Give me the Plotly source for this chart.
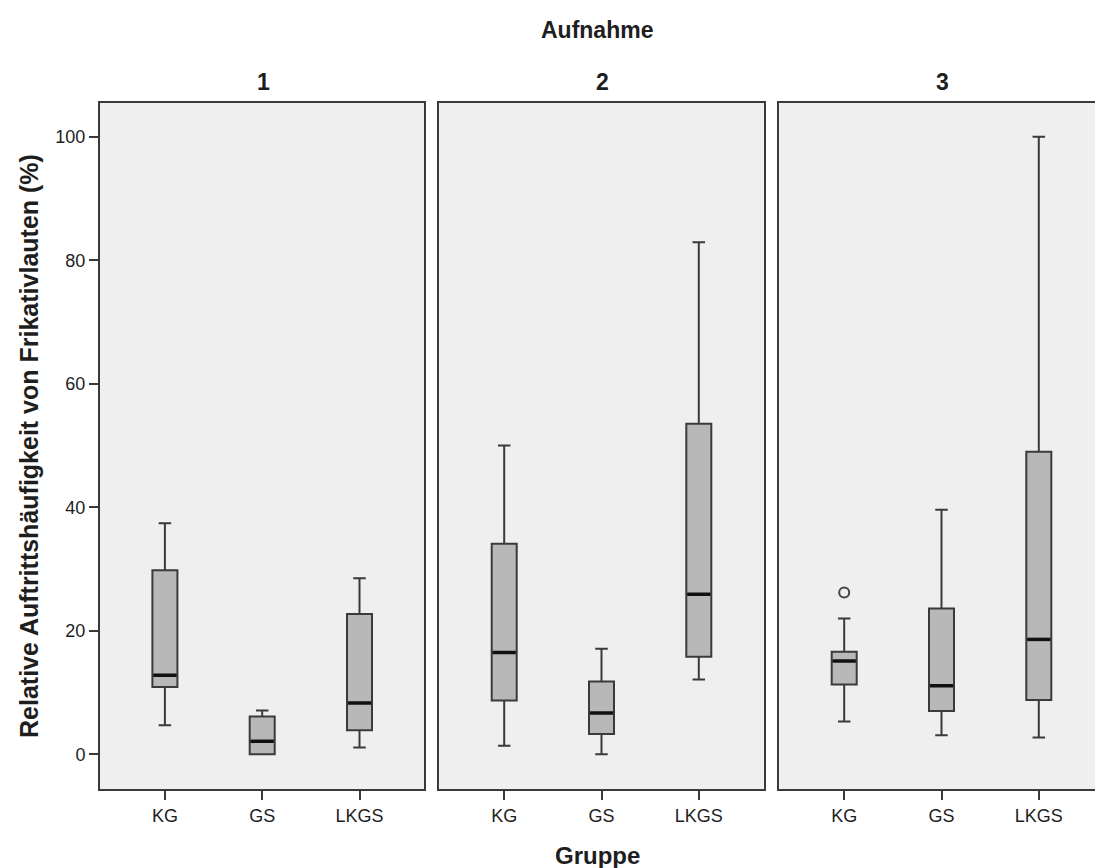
import plotly.graph_objects as go

# Groups and recording sessions
groups = ["KG", "GS", "LKGS"]
sessions = ["1", "2", "3"]

# Box statistics per session (order: KG, GS, LKGS)
lower_whisker = {"1": [4.7, 0.0, 1.1], "2": [1.4, 0.0, 12.1], "3": [5.3, 3.1, 2.7]}
q1_vals = {"1": [10.9, 0.0, 3.9], "2": [8.7, 3.3, 15.8], "3": [11.3, 7.0, 8.8]}
median_vals = {"1": [12.8, 2.1, 8.3], "2": [16.5, 6.7, 25.9], "3": [15.1, 11.1, 18.6]}
q3_vals = {"1": [29.8, 6.1, 22.7], "2": [34.1, 11.8, 53.5], "3": [16.6, 23.6, 49.0]}
upper_whisker = {"1": [37.4, 7.1, 28.5], "2": [50.0, 17.1, 82.9], "3": [22.0, 39.6, 100.0]}

# Outliers: (session, group index, value)
outliers = [("3", 0, 26.2)]

y_ticks = [0, 20, 40, 60, 80, 100]

FONT = "Liberation Sans, Arial, sans-serif"
W, H = 1095, 868
BOX_W = 0.257
LINE = "#3a3a3a"
PANEL_BG = "#efefef"
TXT = "#1e1e1e"

# Panel geometry in pixels
panel_left = [100.0, 439.3, 779.3]
panel_w = 324.4
top_px, bot_px = 102.7, 789.0
px_per_cat = panel_w / (2.667 + 0.667)

fig = go.Figure()

for k, s in enumerate(sessions):
    xa = "x" if k == 0 else f"x{k + 1}"
    ya = "y" if k == 0 else f"y{k + 1}"
    pos = list(range(len(groups)))
    fig.add_trace(go.Box(
        x=pos, q1=q1_vals[s], median=median_vals[s], q3=q3_vals[s],
        lowerfence=lower_whisker[s], upperfence=upper_whisker[s],
        width=BOX_W, whiskerwidth=0.5, boxpoints=False,
        fillcolor="#b8b8b8", line=dict(color=LINE, width=2),
        xaxis=xa, yaxis=ya, showlegend=False, hoverinfo="skip",
    ))
    # heavier median bars
    mx, my = [], []
    for i, m in enumerate(median_vals[s]):
        mx += [i - BOX_W / 2 + 0.01, i + BOX_W / 2 - 0.01, None]
        my += [m, m, None]
    fig.add_trace(go.Scatter(
        x=mx, y=my, mode="lines", line=dict(color="#111111", width=3.5),
        xaxis=xa, yaxis=ya, showlegend=False, hoverinfo="skip",
    ))
    ox = [g for (ss, g, v) in outliers if ss == s]
    oy = [v for (ss, g, v) in outliers if ss == s]
    if ox:
        fig.add_trace(go.Scatter(
            x=ox, y=oy, mode="markers",
            marker=dict(symbol="circle-open", size=10, color="#444444",
                        line=dict(width=2, color="#444444")),
            xaxis=xa, yaxis=ya, showlegend=False, hoverinfo="skip",
        ))

y_dom = [1 - bot_px / H, 1 - top_px / H]
y_rng = [-5.62, 105.5]

layout = dict(
    width=W, height=H,
    margin=dict(l=0, r=0, t=0, b=0),
    paper_bgcolor="white", plot_bgcolor=PANEL_BG,
    font=dict(family=FONT, size=18, color=TXT),
)

for k in range(3):
    left = panel_left[k]
    right = min(left + panel_w, W)
    x_rng = [-0.667, -0.667 + (right - left) / px_per_cat]
    xkey = "xaxis" if k == 0 else f"xaxis{k + 1}"
    ykey = "yaxis" if k == 0 else f"yaxis{k + 1}"
    full = right < W
    layout[xkey] = dict(
        domain=[left / W, right / W], range=x_rng, anchor="y" if k == 0 else f"y{k + 1}",
        tickmode="array", tickvals=list(range(len(groups))), ticktext=groups,
        ticks="outside", ticklen=9, tickwidth=2, tickcolor=LINE,
        showline=True, linecolor=LINE, linewidth=2, mirror=True,
        showgrid=False, zeroline=False, fixedrange=True,
        tickfont=dict(size=18, family=FONT, color=TXT),
    )
    layout[ykey] = dict(
        domain=y_dom, range=y_rng, anchor="x" if k == 0 else f"x{k + 1}",
        showline=True, linecolor=LINE, linewidth=2, mirror=full,
        showgrid=False, zeroline=False, fixedrange=True,
        tickmode="array", tickvals=y_ticks,
        ticks="outside" if k == 0 else "", ticklen=9, tickwidth=2, tickcolor=LINE,
        showticklabels=(k == 0),
        tickfont=dict(size=18, family=FONT, color=TXT),
    )

fig.update_layout(**layout)

# Titles
annots = [
    dict(text="<b>Aufnahme</b>", x=597 / W, y=1 - 30 / H, size=23),
    dict(text="<b>Gruppe</b>", x=597 / W, y=1 - 855 / H, size=24),
]
for k, s in enumerate(sessions):
    cx = (panel_left[k] + 65.7 + px_per_cat) / W
    annots.append(dict(text=f"<b>{s}</b>", x=cx, y=1 - 82 / H, size=23))
for a in annots:
    fig.add_annotation(text=a["text"], x=a["x"], y=a["y"], xref="paper", yref="paper",
                       showarrow=False, xanchor="center", yanchor="middle",
                       font=dict(size=a["size"], family=FONT, color=TXT))
fig.add_annotation(text="<b>Relative Auftrittshäufigkeit von Frikativlauten (%)</b>",
                   x=29 / W, y=1 - 446 / H, xref="paper", yref="paper",
                   showarrow=False, textangle=-90, xanchor="center", yanchor="middle",
                   font=dict(size=25, family=FONT, color=TXT))

fig.write_html("out.html")
